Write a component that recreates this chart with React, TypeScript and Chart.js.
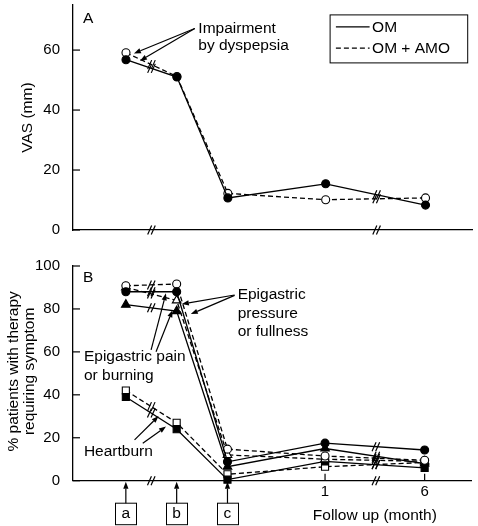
import React, { useEffect, useRef } from 'react';
import { Chart, registerables } from 'chart.js';
Chart.register(...registerables);

// ---------- data ----------
const categories = ['a', 'b', 'c', '1', '6'];
const xPositions = [1, 2, 3, 4.92, 6.88];
const xMin = -0.04;
const xMax = 7.81;
const monthTickLabels = ['', '', '', '1', '6'];
const boxedLabels = ['a', 'b', 'c'];

const vasOM = [56.8, 51.0, 10.7, 15.4, 8.3];
const vasOMAMO = [59.1, 51.2, 12.2, 10.1, 10.7];

const painOM = [88, 88, 8.8, 17.5, 14.3];
const painOMAMO = [90.8, 91.6, 14.7, 11.5, 9.5];
const pressureOM = [82, 79, 6.5, 15, 8];
const pressureOMAMO = [90, 84, 12, 10, 9];
const heartburnOM = [39, 24, 0.5, 9, 6];
const heartburnOMAMO = [42, 27, 3, 6.5, 8.5];

const yTicksA = [0, 20, 40, 60];
const yTicksB = [0, 20, 40, 60, 80, 100];
const breakPoints = [1.5, 5.92];

// annotations (data coordinates)
const arrowsA = [
  [2.35, 67.2, 1.156, 58.9],
  [2.35, 67.2, 1.274, 56.4],
];
const textsA = [
  ['A', 0.155, 70.3],
  ['Impairment', 2.42, 67.0],
  ['by dyspepsia', 2.42, 61.3],
];
const arrowsB = [
  [3.14, 86.5, 2.102, 82.3],
  [3.14, 86.3, 2.278, 77.6],
  [1.497, 60.9, 1.789, 87.3],
  [1.594, 60.1, 1.918, 79.4],
  [1.171, 19.0, 1.645, 30.1],
  [1.333, 17.4, 1.79, 25.2],
];
const textsB = [
  ['B', 0.155, 94.4],
  ['Epigastric', 3.2, 86.5],
  ['pressure', 3.2, 77.9],
  ['or fullness', 3.2, 69.3],
  ['Epigastric pain', 0.175, 57.6],
  ['or burning', 0.175, 49.0],
  ['Heartburn', 0.175, 13.4],
];

const FONT = '"Liberation Sans", Arial, sans-serif';
const TXT = '15.5px ' + FONT;

function ds(values: number[], dashed: boolean, style: string, filled: boolean, radius: number) {
  return {
    data: values.map((v, i) => ({ x: xPositions[i], y: v })),
    borderColor: '#000',
    borderWidth: 1.3,
    borderDash: dashed ? [5, 3] : [],
    pointStyle: style,
    pointRadius: radius,
    pointBackgroundColor: filled ? '#000' : '#fff',
    pointBorderColor: '#000',
    pointBorderWidth: 1.1,
    fill: false,
    tension: 0,
    clip: false,
  };
}

function arrow(ctx: CanvasRenderingContext2D, x1: number, y1: number, x2: number, y2: number) {
  const head = 7, w = 2.6;
  const ang = Math.atan2(y2 - y1, x2 - x1);
  const bx = x2 - head * Math.cos(ang), by = y2 - head * Math.sin(ang);
  ctx.beginPath(); ctx.moveTo(x1, y1); ctx.lineTo(bx, by); ctx.stroke();
  ctx.beginPath();
  ctx.moveTo(x2, y2);
  ctx.lineTo(bx + w * Math.sin(ang), by - w * Math.cos(ang));
  ctx.lineTo(bx - w * Math.sin(ang), by + w * Math.cos(ang));
  ctx.closePath(); ctx.fill();
}

function breakMark(ctx: CanvasRenderingContext2D, x: number, y: number) {
  [-1.8, 1.8].forEach((o) => {
    ctx.beginPath();
    ctx.moveTo(x + o - 2, y + 4.5);
    ctx.lineTo(x + o + 2, y - 4.5);
    ctx.stroke();
  });
}

function lineBreaks(ctx: CanvasRenderingContext2D, chart: any, series: number[][]) {
  const X = (u: number) => chart.scales.x.getPixelForValue(u);
  const Y = (v: number) => chart.scales.y.getPixelForValue(v);
  series.forEach((vals) => {
    breakPoints.forEach((u) => {
      for (let i = 0; i < xPositions.length - 1; i++) {
        if (u >= xPositions[i] && u <= xPositions[i + 1]) {
          const t = (u - xPositions[i]) / (xPositions[i + 1] - xPositions[i]);
          const py = Y(vals[i]) + t * (Y(vals[i + 1]) - Y(vals[i]));
          breakMark(ctx, X(u), py);
        }
      }
    });
  });
}

function common(ctx: CanvasRenderingContext2D) {
  ctx.strokeStyle = '#000';
  ctx.fillStyle = '#000';
  ctx.lineWidth = 1.2;
  ctx.setLineDash([]);
}

function drawTexts(ctx: CanvasRenderingContext2D, chart: any, texts: any[], arrows: number[][]) {
  const X = (u: number) => chart.scales.x.getPixelForValue(u);
  const Y = (v: number) => chart.scales.y.getPixelForValue(v);
  ctx.font = TXT;
  ctx.textAlign = 'left';
  ctx.textBaseline = 'middle';
  texts.forEach(([t, u, v]) => ctx.fillText(t, X(u), Y(v)));
  arrows.forEach(([u1, v1, u2, v2]) => arrow(ctx, X(u1), Y(v1), X(u2), Y(v2)));
}

const decoA = {
  id: 'decoA',
  afterDraw(chart: any) {
    const { ctx, chartArea } = chart;
    const { left, right, top, bottom } = chartArea;
    const Y = (v: number) => chart.scales.y.getPixelForValue(v);
    const X = (u: number) => chart.scales.x.getPixelForValue(u);
    ctx.save();
    common(ctx);
    yTicksA.forEach((v) => { ctx.beginPath(); ctx.moveTo(left, Y(v)); ctx.lineTo(left + 7, Y(v)); ctx.stroke(); });
    breakPoints.forEach((u) => breakMark(ctx, X(u), bottom));
    lineBreaks(ctx, chart, [vasOM, vasOMAMO]);
    // y title
    ctx.save();
    ctx.translate(left - 45, (top + bottom) / 2);
    ctx.rotate(-Math.PI / 2);
    ctx.font = TXT; ctx.textAlign = 'center'; ctx.textBaseline = 'middle';
    ctx.fillText('VAS (mm)', 0, 0);
    ctx.restore();
    drawTexts(ctx, chart, textsA, arrowsA);
    // legend
    const bl = right - 143.3, bt = top + 9.3;
    ctx.lineWidth = 1;
    ctx.strokeRect(bl + 0.5, bt + 0.5, 137.6, 48);
    ctx.lineWidth = 1.3;
    ctx.beginPath(); ctx.moveTo(bl + 6.3, bt + 12.4); ctx.lineTo(bl + 40, bt + 12.4); ctx.stroke();
    ctx.setLineDash([5, 3]);
    ctx.beginPath(); ctx.moveTo(bl + 6.3, bt + 33.7); ctx.lineTo(bl + 40, bt + 33.7); ctx.stroke();
    ctx.setLineDash([]);
    ctx.font = TXT; ctx.textBaseline = 'middle'; ctx.textAlign = 'left';
    ctx.fillText('OM', bl + 42.5, bt + 13);
    ctx.fillText('OM + AMO', bl + 42.5, bt + 34);
    ctx.restore();
  },
};

const decoB = {
  id: 'decoB',
  afterDraw(chart: any) {
    const { ctx, chartArea } = chart;
    const { left, top, bottom } = chartArea;
    const Y = (v: number) => chart.scales.y.getPixelForValue(v);
    const X = (u: number) => chart.scales.x.getPixelForValue(u);
    ctx.save();
    common(ctx);
    yTicksB.forEach((v) => { ctx.beginPath(); ctx.moveTo(left, Y(v)); ctx.lineTo(left + 7, Y(v)); ctx.stroke(); });
    breakPoints.forEach((u) => breakMark(ctx, X(u), bottom));
    lineBreaks(ctx, chart, [painOM, painOMAMO, pressureOM, pressureOMAMO, heartburnOM, heartburnOMAMO]);
    // y title (two lines)
    ctx.save();
    ctx.translate(left, (top + bottom) / 2 - 2);
    ctx.rotate(-Math.PI / 2);
    ctx.font = TXT; ctx.textAlign = 'center'; ctx.textBaseline = 'middle';
    ctx.fillText('% patients with therapy', 0, -59);
    ctx.fillText('requiring symptom', 0, -43);
    ctx.restore();
    drawTexts(ctx, chart, textsB, arrowsB);
    // month ticks and labels
    ctx.font = '15px ' + FONT; ctx.textAlign = 'center'; ctx.textBaseline = 'middle';
    monthTickLabels.forEach((lab, i) => {
      if (!lab) return;
      const px = X(xPositions[i]);
      ctx.beginPath(); ctx.moveTo(px, bottom); ctx.lineTo(px, bottom - 7); ctx.stroke();
      ctx.fillText(lab, px, bottom + 11.5);
    });
    // boxed labels with arrows
    boxedLabels.forEach((lab, i) => {
      const px = X(xPositions[i]);
      ctx.lineWidth = 1;
      ctx.strokeRect(Math.round(px - 10.5) + 0.5, bottom + 22.5, 21, 21.5);
      ctx.font = TXT;
      ctx.fillText(lab, px, bottom + 33.5);
      ctx.lineWidth = 1.2;
      arrow(ctx, px, bottom + 22.5, px, bottom + 1);
    });
    ctx.font = TXT; ctx.textAlign = 'center';
    ctx.fillText('Follow up (month)', (X(xPositions[3]) + X(xPositions[4])) / 2, bottom + 35.5);
    ctx.restore();
  },
};

function baseOptions(yMax: number, ticks: number[], xHeight: number, padTop: number) {
  return {
    animation: false,
    responsive: false,
    maintainAspectRatio: false,
    layout: { padding: { left: 0, right: 3, top: padTop, bottom: 0 } },
    plugins: { legend: { display: false }, tooltip: { enabled: false }, title: { display: false } },
    scales: {
      x: {
        type: 'linear',
        min: xMin,
        max: xMax,
        ticks: { display: false },
        grid: { display: false },
        border: { display: true, color: '#000', width: 1.3 },
        afterFit: (s: any) => { s.height = xHeight; s.paddingLeft = 0; s.paddingRight = 0; },
      },
      y: {
        type: 'linear',
        min: 0,
        max: yMax,
        afterBuildTicks: (s: any) => { s.ticks = ticks.map((v) => ({ value: v })); },
        ticks: { color: '#000', padding: 5, font: { family: FONT, size: 15 } },
        grid: { display: false },
        border: { display: true, color: '#000', width: 1.3 },
        afterFit: (s: any) => { s.width = 73; s.paddingTop = 0; s.paddingBottom = 0; },
      },
    },
  };
}

export default function App() {
  const refA = useRef<HTMLCanvasElement>(null);
  const refB = useRef<HTMLCanvasElement>(null);

  useEffect(() => {
    const chartA = new Chart(refA.current as HTMLCanvasElement, {
      type: 'line',
      data: {
        labels: categories,
        datasets: [
          ds(vasOM, false, 'circle', true, 4),
          ds(vasOMAMO, true, 'circle', false, 4),
        ],
      } as any,
      options: baseOptions(75, yTicksA, 10, 0) as any,
      plugins: [decoA],
    });
    const chartB = new Chart(refB.current as HTMLCanvasElement, {
      type: 'line',
      data: {
        labels: categories,
        datasets: [
          ds(painOM, false, 'circle', true, 4),
          ds(painOMAMO, true, 'circle', false, 4),
          ds(pressureOM, false, 'triangle', true, 5),
          ds(pressureOMAMO, true, 'triangle', false, 5),
          ds(heartburnOM, false, 'rect', true, 5),
          ds(heartburnOMAMO, true, 'rect', false, 5),
        ],
      } as any,
      options: baseOptions(100, yTicksB, 45.3, 26) as any,
      plugins: [decoB],
    });
    return () => { chartA.destroy(); chartB.destroy(); };
  }, []);

  return (
    <div style={{ position: 'absolute', left: 0, top: 0, width: 478, height: 526, background: '#fff' }}>
      <canvas ref={refA} width={478} height={240} style={{ position: 'absolute', left: 0, top: 0 }} />
      <canvas ref={refB} width={478} height={286} style={{ position: 'absolute', left: 0, top: 240 }} />
    </div>
  );
}
